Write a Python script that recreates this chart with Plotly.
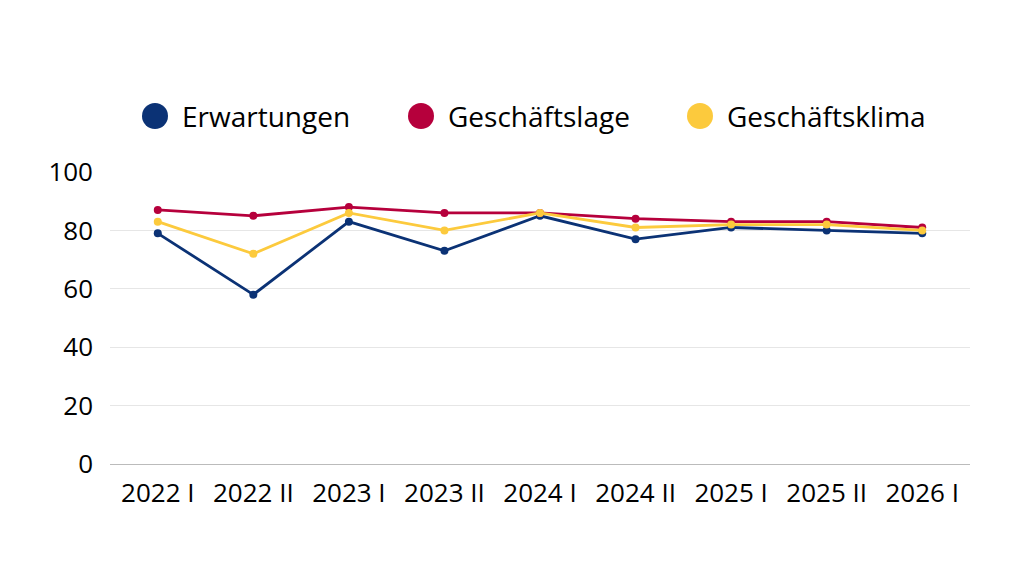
import plotly.graph_objects as go

categories = ["2022 I", "2022 II", "2023 I", "2023 II", "2024 I", "2024 II", "2025 I", "2025 II", "2026 I"]
erwartungen = [79, 58, 83, 73, 85, 77, 81, 80, 79]
geschaeftslage = [87, 85, 88, 86, 86, 84, 83, 83, 81]
geschaeftsklima = [83, 72, 86, 80, 86, 81, 82, 82, 80]

series_names = ["Erwartungen", "Geschäftslage", "Geschäftsklima"]
series_values = [erwartungen, geschaeftslage, geschaeftsklima]
colors = ["#0b3275", "#b6003c", "#fcca3d"]

FONT = "Open Sans"

fig = go.Figure()
for name, vals, col in zip(series_names, series_values, colors):
    fig.add_trace(go.Scatter(
        x=categories, y=vals, name=name, mode="lines+markers",
        line=dict(color=col, width=2.8),
        marker=dict(color=col, size=8),
        showlegend=False,
    ))

# page body has an 8px offset; compensate
W, H = 1016, 568
L, T = 102, 164
PW, PH = 860, 292
legend_x = [155, 421, 700]   # page-pixel circle centres
legend_y = 116
for lx, name, col in zip(legend_x, series_names, colors):
    xa = (lx - 8 - L) / PW
    ya = (T + PH - (legend_y - 8)) / PH
    fig.add_shape(type="circle", xref="paper", yref="paper",
                  xsizemode="pixel", ysizemode="pixel",
                  xanchor=xa, yanchor=ya,
                  x0=-13, x1=13, y0=-13, y1=13,
                  fillcolor=col, line=dict(width=0))
    fig.add_annotation(x=(lx - 8 + 25 - L) / PW, y=ya,
                       xref="paper", yref="paper", text=name, showarrow=False,
                       xanchor="left", yanchor="middle",
                       font=dict(family=FONT, size=28, color="#000000"))

fig.update_layout(
    width=W, height=H,
    margin=dict(l=L, r=W - L - PW, t=T, b=H - T - PH),
    paper_bgcolor="white", plot_bgcolor="white",
    font=dict(family=FONT, size=26, color="#000000"),
)
fig.update_xaxes(type="category", range=[-0.5, 8.5], showgrid=False,
                 showline=True, linecolor="#bbbbbb", linewidth=1,
                 ticks="", tickfont=dict(size=26), ticklabelstandoff=6)
fig.update_yaxes(range=[0, 100], tickvals=[0, 20, 40, 60, 80, 100],
                 showgrid=True, gridcolor="#e6e6e6", gridwidth=1,
                 zeroline=False, ticks="", tickfont=dict(size=26),
                 ticklabelstandoff=16)

fig.write_html("out.html")
